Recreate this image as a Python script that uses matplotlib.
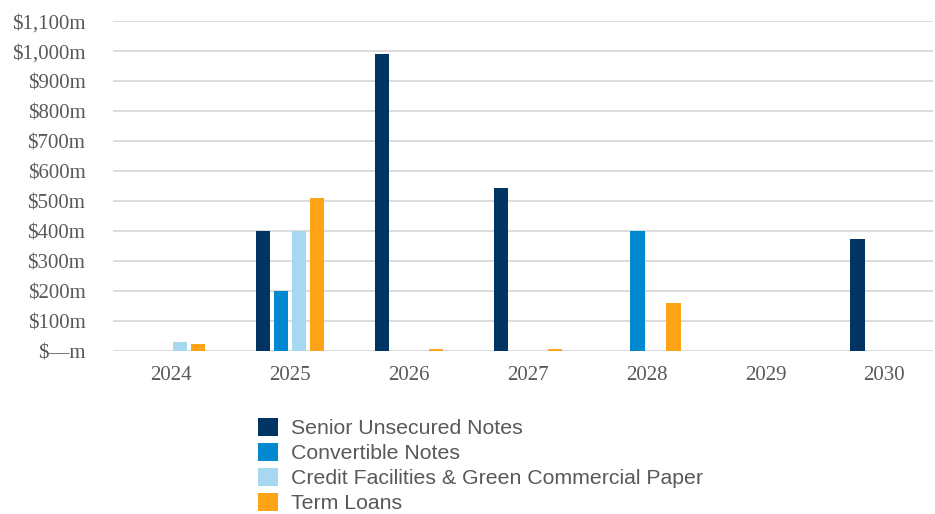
import matplotlib
matplotlib.use("Agg")
import matplotlib.pyplot as plt
from matplotlib.patches import Patch
import numpy as np

years = ["2024", "2025", "2026", "2027", "2028", "2029", "2030"]
series_names = [
    "Senior Unsecured Notes",
    "Convertible Notes",
    "Credit Facilities & Green Commercial Paper",
    "Term Loans",
]
senior_unsecured = [0, 400, 990, 545, 0, 0, 375]
convertible = [0, 200, 0, 0, 400, 0, 0]
credit_facilities = [30, 400, 0, 0, 0, 0, 0]
term_loans = [25, 510, 8, 8, 160, 0, 0]
y_ticks = list(range(0, 1101, 100))
y_tick_labels = ["$—m"] + [f"${v:,}m" for v in y_ticks[1:]]

colors = ["#003462", "#0088D1", "#A8D8EF", "#FFA417"]
values = [senior_unsecured, convertible, credit_facilities, term_loans]

fig = plt.figure(figsize=(9.35, 5.14), dpi=100)
ax = fig.add_axes([0.121, 0.317, 0.877, 0.642])

x = np.arange(len(years))
width = 0.122
step = 0.1515
for i, (vals, col) in enumerate(zip(values, colors)):
    offs = (i - 1.5) * step
    ax.bar(x + offs, vals, width=width, color=col, zorder=3)

ax.set_ylim(0, 1100)
ax.set_xlim(-0.488, 6.41)
ax.set_yticks(y_ticks)
ax.set_yticklabels(y_tick_labels)
ax.set_xticks(x)
ax.set_xticklabels(years)
ax.grid(axis="y", color="#D9D9D9", linewidth=1.3, zorder=0)
ax.set_axisbelow(True)
for s in ax.spines.values():
    s.set_visible(False)
ax.tick_params(axis="both", length=0, colors="#595959", labelsize=15)
ax.tick_params(axis="y", pad=20)
ax.tick_params(axis="x", pad=11)
for lab in ax.get_xticklabels() + ax.get_yticklabels():
    lab.set_fontfamily("Liberation Serif")

handles = [Patch(facecolor=c, edgecolor="none") for c in colors]
leg = fig.legend(
    handles, series_names, loc="upper left", bbox_to_anchor=(0.2755, 0.187),
    frameon=False, prop={"family": "Liberation Sans", "size": 15.3},
    handlelength=0.95, handleheight=0.95, handletextpad=0.6,
    labelspacing=0.21, borderpad=0, borderaxespad=0,
)
for t in leg.get_texts():
    t.set_color("#595959")

fig.savefig("out.png", dpi=100)
